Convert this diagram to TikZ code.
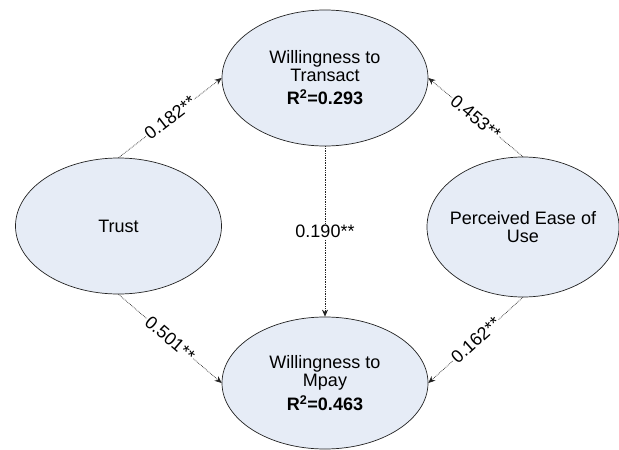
\documentclass[tikz,border=0pt]{standalone}
\usepackage{fontspec}
\setmainfont{Liberation Sans}
\usepackage{tikz}
\usetikzlibrary{arrows.meta, shapes.geometric}
\definecolor{mFill}{HTML}{E6ECF6}
\definecolor{mLine}{HTML}{222222}

\begin{document}
\begin{tikzpicture}[
  x=1pt, y=-1pt,
  construct/.style={ellipse, draw=mLine, line width=0.7pt, fill=mFill, align=center,
                    inner sep=0pt, minimum width=206pt, minimum height=136pt,
                    font=\fontsize{18}{18}\selectfont},
  path/.style={draw=mLine, line width=0.7pt, densely dotted, -{Stealth[length=7pt, width=6pt]}},
  coef/.style={fill=white, inner sep=1pt, font=\fontsize{18}{18}\selectfont},
]
  \useasboundingbox (0,0) rectangle (619,450);
  % constructs
  \node[construct] (wtt) at (325, 78)
    {Willingness to\\Transact\\[5pt]\textbf{R\textsuperscript{2}=0.293}};
  \node[construct] (trust) at (118.5, 226) {Trust};
  \node[construct, minimum width=192pt, minimum height=140pt, inner xsep=-8pt] (peou) at (523, 227)
    {Perceived Ease of\\Use};
  \node[construct, minimum height=132pt] (wtm) at (325, 383)
    {Willingness to\\Mpay\\[5pt]\textbf{R\textsuperscript{2}=0.463}};
  % paths
  \draw[path] (trust.north) -- node[coef, sloped] {0.182**} (wtt.west);
  \draw[path] (peou.north) -- node[coef, sloped] {0.453**} (wtt.east);
  \draw[path] (trust.south) -- node[coef, sloped] {0.501**} (wtm.west);
  \draw[path] (peou.south) -- node[coef, sloped] {0.162**} (wtm.east);
  \draw[path] (wtt.south) -- node[coef, pos=0.5] {0.190**} (wtm.north);
\end{tikzpicture}
\end{document}
